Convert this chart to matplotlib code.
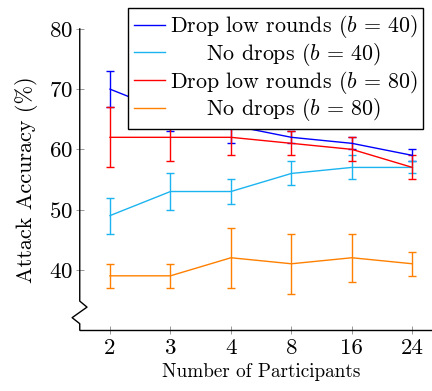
import numpy as np
import matplotlib
matplotlib.use('Agg')
import matplotlib.pyplot as plt
import matplotlib.transforms as mtransforms

plt.rcParams['font.family'] = 'serif'
plt.rcParams['font.serif'] = ['cmr10']
plt.rcParams['mathtext.fontset'] = 'cm'
plt.rcParams['axes.formatter.use_mathtext'] = True

# data
participants = ['2', '3', '4', '8', '16', '24']

drop_40 = [70, 66, 64, 62, 61, 59]
drop_40_err = [3, 3, 3, 1, 1, 1]

nodrop_40 = [49, 53, 53, 56, 57, 57]
nodrop_40_err = [3, 3, 2, 2, 2, 1]

drop_80 = [62, 62, 62, 61, 60, 57]
drop_80_err = [5, 4, 3, 2, 2, 2]

nodrop_80 = [39, 39, 42, 41, 42, 41]
nodrop_80_err = [2, 2, 5, 5, 4, 2]

series = [
    (drop_40, drop_40_err, '#0000ff', r'Drop low rounds ($b$ = 40)'),
    (nodrop_40, nodrop_40_err, '#1cb4f0', r'     No drops ($b$ = 40)'),
    (drop_80, drop_80_err, '#ff0000', r'Drop low rounds ($b$ = 80)'),
    (nodrop_80, nodrop_80_err, '#ff8000', r'     No drops ($b$ = 80)'),
]

fig = plt.figure(figsize=(4.32, 3.91), dpi=100)
ax = fig.add_axes([0.1846, 0.156, 0.840, 0.770])

x = np.arange(len(participants))
handles = []
for vals, err, col, lab in series:
    c = ax.errorbar(x, vals, yerr=err, color=col, lw=1.0, elinewidth=1.0,
                    capsize=2.6, capthick=1.0, label=lab)
    handles.append(c.lines[0])

ax.set_xlim(-0.5, 5.5)
ax.set_ylim(30, 80)
ax.set_xticks(x)
ax.set_xticklabels(participants)
ax.set_yticks([40, 50, 60, 70, 80])

for s in ['top', 'right', 'left']:
    ax.spines[s].set_visible(False)
ax.spines['bottom'].set_linewidth(1.0)

# left axis with break (zigzag)
trans = mtransforms.blended_transform_factory(ax.transAxes, ax.transData)
ax.plot([0, 0, 0.020, -0.021, 0, 0], [80, 34.8, 33.8, 32.05, 31.05, 30],
        color='black', lw=1.0, transform=trans, clip_on=False, zorder=5)

ax.tick_params(axis='both', direction='inout', length=6, width=0.6,
               color='#888888', labelcolor='black', labelsize=16.5)
ax.tick_params(axis='x', pad=3)
ax.tick_params(axis='y', pad=2)

ax.set_xlabel('Number of Participants', fontsize=13.8, labelpad=4)
ax.set_ylabel('Attack Accuracy (%)', fontsize=16, labelpad=8)

leg = ax.legend(handles=handles, labels=[s[3] for s in series],
                loc='upper right', bbox_to_anchor=(0.947, 1.070),
                borderaxespad=0, frameon=True, fancybox=False, fontsize=15.8,
                handlelength=1.4, handletextpad=0.25, labelspacing=0.03,
                borderpad=0.25)
leg.get_frame().set_edgecolor('black')
leg.get_frame().set_linewidth(1.0)
leg.get_frame().set_alpha(1)

fig.savefig('out.png', dpi=100)
